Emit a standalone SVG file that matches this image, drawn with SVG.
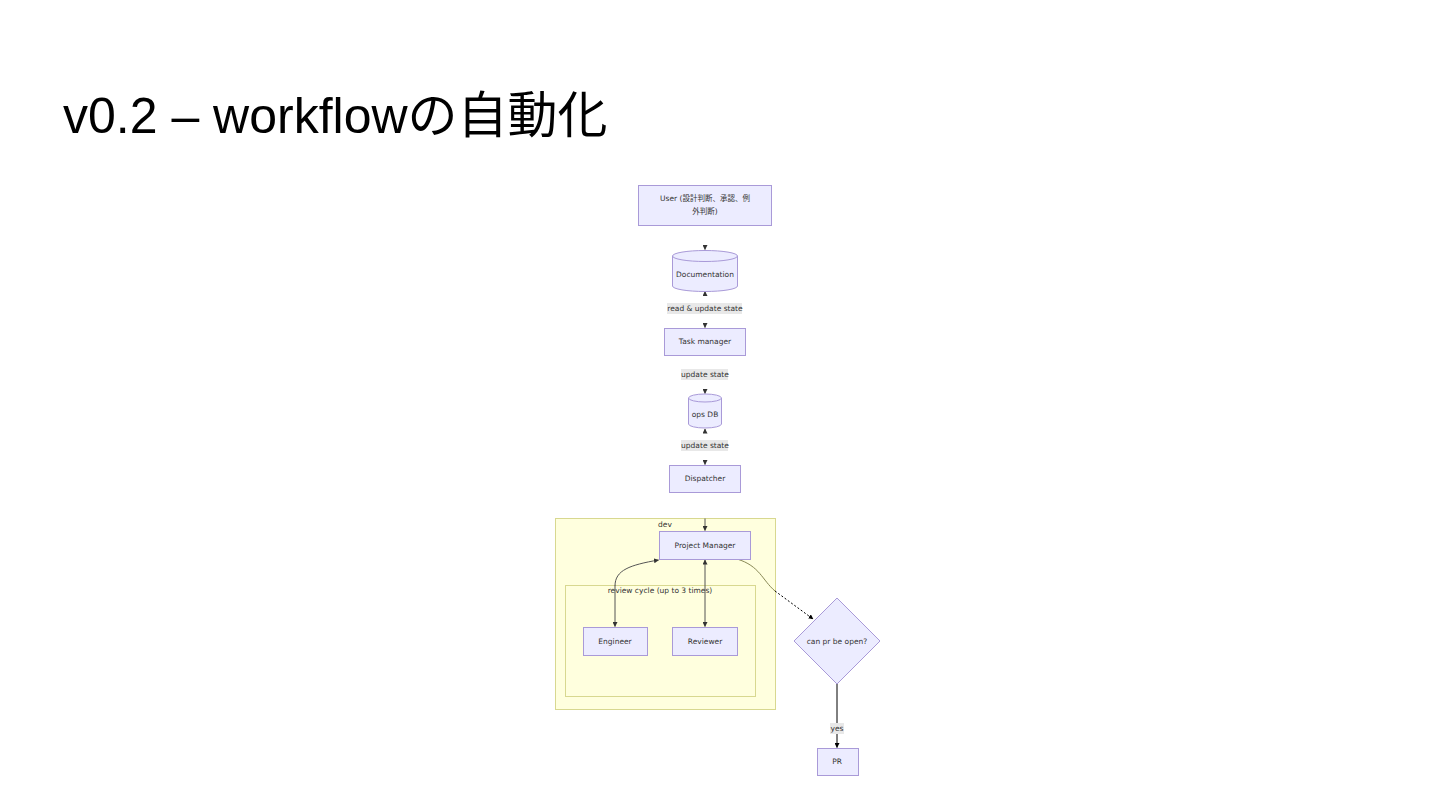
<svg xmlns="http://www.w3.org/2000/svg" width="1440" height="810" viewBox="0 0 1440 810">
<style>
.node{fill:#ececff;stroke:#a99ad8;stroke-width:1}
.t{font-family:"DejaVu Sans","Noto Sans CJK JP",sans-serif;font-size:7.5px;fill:#333;text-anchor:middle;dominant-baseline:middle}
.lbl{fill:#e8e8e8}
.cl{fill:#ffffde;stroke:#d8d890;stroke-width:1}
.e{fill:none;stroke:#555;stroke-width:1}
</style>
<defs>
<marker id="ah" viewBox="0 0 10 10" refX="9" refY="5" markerWidth="5" markerHeight="5" orient="auto-start-reverse"><path d="M0,0 L10,5 L0,10 z" fill="#333"/></marker>
<marker id="ahb" viewBox="0 0 10 10" refX="9" refY="5" markerWidth="5" markerHeight="5" orient="auto-start-reverse"><path d="M0,0 L10,5 L0,10 z" fill="#000"/></marker>
</defs>
<rect width="1440" height="810" fill="#fff"/>
<text x="63" y="133" font-family="'Liberation Sans','Noto Sans CJK JP',sans-serif" font-size="50" fill="#000">v0.2 – workflowの自動化</text>

<g id="clusters">
<rect id="dev" class="cl" x="555.5" y="518.5" width="220" height="191"/>
<text class="t" x="665" y="524.5">dev</text>
<rect id="review" class="cl" x="565.5" y="585.5" width="190" height="111"/>
<text class="t" x="660" y="591">review cycle (up to 3 times)</text>
</g>

<g id="connectors">
<path d="M705,245 L705,249.5" class="e" marker-end="url(#ah)"/>
<path d="M705,295 L705,291.5" class="e" marker-end="url(#ah)"/>
<path d="M705,323 L705,327.5" class="e" marker-end="url(#ah)"/>
<path d="M705,389 L705,393.5" class="e" marker-end="url(#ah)"/>
<path d="M705,433 L705,429" class="e" marker-end="url(#ah)"/>
<path d="M705,460 L705,464.5" class="e" marker-end="url(#ah)"/>
<path d="M705,518.5 L705,530.5" class="e" marker-end="url(#ah)"/>
<path d="M615,585.5 L615,626.5" class="e" marker-end="url(#ah)"/>
<path d="M615,586 C615,570 630,565 658.5,560" class="e" marker-end="url(#ah)"/>
<path d="M705,560 L705,626.5" class="e" marker-start="url(#ah)" marker-end="url(#ah)"/>
<path d="M737,559 C760,566 762,580 775,591" fill="none" stroke="#888855" stroke-width="1"/>
<path d="M775,591 L813,619" fill="none" stroke="#000" stroke-width="1" stroke-dasharray="2,2" marker-end="url(#ahb)"/>
<path d="M837,684 L837,747.5" fill="none" stroke="#000" stroke-width="1" marker-end="url(#ahb)"/>
<rect class="lbl" x="667" y="303" width="75" height="11"/>
<text class="t" x="705" y="309">read &amp; update state</text>
<rect class="lbl" x="681" y="369" width="47" height="11"/>
<text class="t" x="705" y="375">update state</text>
<rect class="lbl" x="681" y="440" width="47" height="11"/>
<text class="t" x="705" y="446">update state</text>
<rect class="lbl" x="830" y="723" width="14" height="11"/>
<text class="t" x="837" y="729">yes</text>
</g>

<g id="user">
<rect class="node" x="638.5" y="185.5" width="133" height="40"/>
<text class="t" x="705" y="199">User (設計判断、承認、例</text>
<text class="t" x="705" y="212">外判断)</text>
</g>
<g id="documentation">
<path class="node" d="M672.5,256 A32.5,5.5 0 0 1 737.5,256 L737.5,286 A32.5,5.5 0 0 1 672.5,286 Z"/>
<path d="M672.5,256 A32.5,5.5 0 0 0 737.5,256" fill="none" stroke="#a99ad8"/>
<text class="t" x="705" y="275">Documentation</text>
</g>
<g id="taskmanager">
<rect class="node" x="664.5" y="328.5" width="81" height="27"/>
<text class="t" x="705" y="342">Task manager</text>
</g>
<g id="opsdb">
<path class="node" d="M688.5,398 A16.5,4 0 0 1 721.5,398 L721.5,424 A16.5,4 0 0 1 688.5,424 Z"/>
<path d="M688.5,398 A16.5,4 0 0 0 721.5,398" fill="none" stroke="#a99ad8"/>
<text class="t" x="705" y="415">ops DB</text>
</g>
<g id="dispatcher">
<rect class="node" x="669.5" y="465.5" width="71" height="27"/>
<text class="t" x="705" y="479">Dispatcher</text>
</g>
<g id="projectmanager">
<rect class="node" x="659.5" y="531.5" width="91" height="28"/>
<text class="t" x="705" y="545.5">Project Manager</text>
</g>
<g id="engineer">
<rect class="node" x="583.5" y="627.5" width="64" height="28"/>
<text class="t" x="615" y="641.5">Engineer</text>
</g>
<g id="reviewer">
<rect class="node" x="672.5" y="627.5" width="65" height="28"/>
<text class="t" x="705" y="641.5">Reviewer</text>
</g>
<g id="decision">
<polygon class="node" points="837,598 880,641 837,684 794,641"/>
<text class="t" x="837" y="641.5">can pr be open?</text>
</g>
<g id="pr">
<rect class="node" x="817.5" y="748.5" width="41" height="27"/>
<text class="t" x="837" y="762">PR</text>
</g>
</svg>
